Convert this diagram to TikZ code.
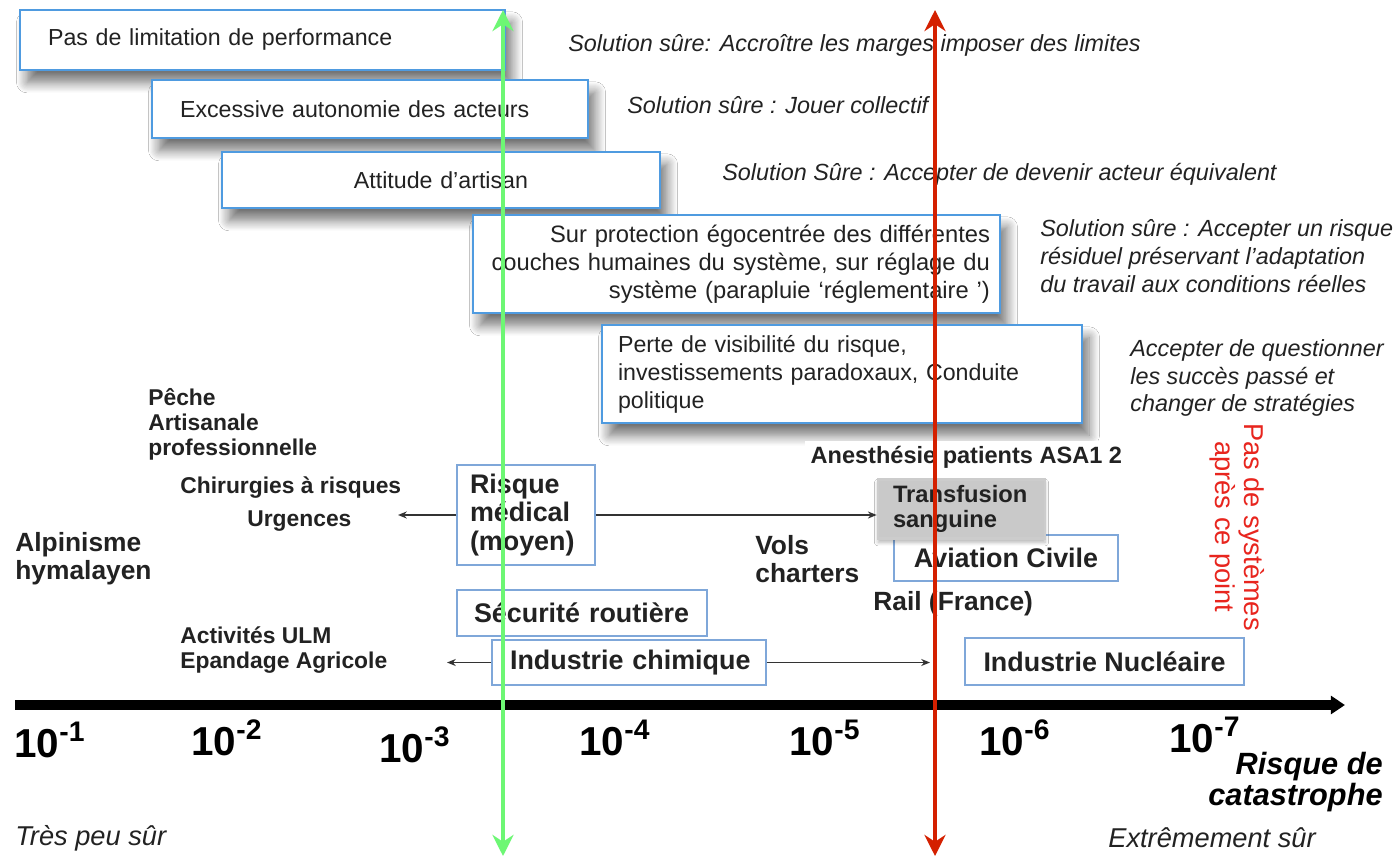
\documentclass[tikz,border=0pt]{standalone}
\usepackage{fontspec}
\setmainfont{Liberation Sans}
\usepackage{xcolor}
\usepackage{tikz}
\usetikzlibrary{arrows.meta, positioning, shadows.blur}
\definecolor{boxblue}{HTML}{4F9BE0}
\definecolor{thinblue}{HTML}{7FA7D9}
\definecolor{safegreen}{HTML}{6DF774}
\definecolor{riskred}{HTML}{D42000}
\definecolor{limitred}{HTML}{E8251E}
\definecolor{transgray}{HTML}{C9C9C9}
\definecolor{textgray}{HTML}{222222}

\begin{document}
\begin{tikzpicture}[
  x=0.02cm, y=-0.02cm,
  every node/.style={font=\fontsize{13.2}{15.9}\selectfont, text=textgray},
  flagbox/.style={
    draw=boxblue, line width=1.5pt, fill=white,
    inner ysep=2pt,
    blur shadow={shadow xshift=4pt, shadow yshift=-7pt, shadow blur radius=6pt,
                 shadow blur steps=10, shadow opacity=55}
  },
  sysbox/.style={draw=thinblue, line width=0.9pt, fill=white,
                 font=\fontsize{15.3}{16}\selectfont\bfseries},
  activity/.style={font=\fontsize{13}{14.2}\selectfont\bfseries,
                 align=left, anchor=west, inner sep=0pt},
  bigactivity/.style={activity, font=\fontsize{15}{15.9}\selectfont\bfseries},
  advice/.style={font=\fontsize{13.3}{15.9}\selectfont\itshape,
                 align=left, anchor=west, inner sep=0pt},
  ticklabel/.style={font=\fontsize{23}{23}\selectfont\bfseries, text=black, inner sep=0pt},
  link/.style={-{Stealth[length=5pt,width=4pt]}, line width=1pt, color=black!80},
  riskaxis/.style={-{Triangle[length=8pt,width=10pt]}, line width=5.5pt},
  bound/.style={{Stealth[length=12pt,width=12pt]}-{Stealth[length=12pt,width=12pt]},
                line width=2.8pt}
]
\useasboundingbox (0,0) rectangle (1393,858);
\fill[white] (0,0) rectangle (1393,858);

%% ── Failure modes (staircase of boxes) ──────────────────────
\node[flagbox, inner xsep=0.56cm, minimum height=1.2cm,
      text width=8.58cm, align=left] (perf) at (262.5,40)
      {Pas de limitation de performance};
\node[flagbox, inner xsep=0.56cm, minimum height=1.16cm,
      text width=7.6cm, align=left] (autonomie) at (370,109)
      {Excessive autonomie des acteurs};
\node[flagbox, inner xsep=0.56cm, minimum height=1.12cm,
      text width=7.64cm, align=center] (artisan) at (441,180)
      {Attitude d'artisan};
\node[flagbox, inner xsep=0.2cm, minimum height=1.96cm,
      text width=10.14cm, align=right,
      font=\fontsize{13.5}{15.9}\selectfont] (protection) at (736.5,264)
      {Sur protection égocentrée des différentes\\
       couches humaines du système, sur réglage du\\
       système  (parapluie ‘réglementaire ’)};
\node[flagbox, inner xsep=0.32cm, minimum height=1.96cm,
      text width=8.96cm, align=left] (visibilite) at (842,374)
      {Perte de visibilité du risque,\\
       investissements paradoxaux, Conduite\\
       politique};

%% ── Safe solutions (right column) ───────────────────────────
\node[advice] (solMarges) at (568,45)
      {Solution sûre: Accroître les marges imposer des limites};
\node[advice] (solCollectif) at (627,105)
      {Solution sûre : Jouer collectif};
\node[advice] (solActeur) at (722,174)
      {Solution Sûre : Accepter de devenir acteur équivalent};
\node[advice] (solResiduel) at (1040,256)
      {Solution sûre : Accepter un risque\\
       résiduel  préservant l'adaptation\\
       du travail aux conditions réelles};
\node[advice] (solStrategie) at (1130,378)
      {Accepter de questionner\\les succès passé et\\changer de stratégies};

\node[rotate=-90, align=center, text=limitred,
      font=\fontsize{15.5}{16.5}\selectfont] (limite) at (1237,527)
      {Pas de systèmes\\après ce point};

%% ── Activities by level of risk ─────────────────────────────
\node[activity] (peche) at (148,424)
      {Pêche\\Artisanale\\professionnelle};
\node[activity] (chirurgie) at (180,488) {Chirurgies à risques};
\node[activity] (urgences) at (247,521) {Urgences};
\node[bigactivity] (alpinisme) at (15,559) {Alpinisme\\hymalayen};
\node[activity] (ulm) at (180,650) {Activités ULM\\Epandage Agricole};
\node[bigactivity] (vols) at (755,559) {Vols\\charters};
\node[bigactivity] (rail) at (873,604) {Rail (France)};
\node[activity, fill=white, inner sep=3pt,
      font=\fontsize{13.4}{14}\selectfont\bfseries] (anesthesie)
      at (805,457) {Anesthésie patients ASA1 2};

\node[sysbox, inner xsep=0.26cm, minimum width=2.76cm, minimum height=2cm,
      text width=2.24cm, align=left] (medical) at (526,515)
      {Risque\\médical\\(moyen)};
\node[sysbox, minimum width=4.48cm, minimum height=0.92cm] (aviation)
      at (1006,558) {Aviation Civile};
\node[sysbox, fill=transgray, draw=gray!40, line width=1.5pt,
      inner xsep=0.3cm, minimum width=3.34cm, minimum height=1.16cm,
      text width=2.74cm, align=left, font=\fontsize{13.5}{14.5}\selectfont\bfseries,
      blur shadow={shadow xshift=0pt, shadow yshift=-2pt, shadow opacity=30}]
      (transfusion) at (961.5,509) {Transfusion\\sanguine};
\node[sysbox, inner xsep=0.34cm, minimum width=5cm, minimum height=0.92cm,
      text width=4.32cm, align=left] (routiere) at (582,613)
      {Sécurité routière};
\node[sysbox, inner xsep=0.36cm, minimum width=5.48cm, minimum height=0.9cm,
      text width=4.76cm, align=left] (chimique) at (629,662.5)
      {\mbox{Industrie chimique}};
\node[sysbox, minimum width=5.58cm, minimum height=0.94cm] (nucleaire)
      at (1104.5,661.5) {Industrie Nucléaire};

%% ── Spread arrows ───────────────────────────────────────────
\coordinate (medLeft)  at (398,515);
\coordinate (chimLeft) at (447,662.5);
\coordinate (chimRight) at (930,662.5);
\draw[link] (medical.west) -- (medLeft);
\draw[link] (medical.east) -- (medical.east -| transfusion.west);
\draw[link] (chimique.west) -- (chimLeft);
\draw[link] (chimique.east) -- (chimRight);

%% ── Risk axis ───────────────────────────────────────────────
\coordinate (axisStart) at (15,705);
\coordinate (axisEnd)   at (1345,705);
\draw[riskaxis] (axisStart) -- (axisEnd);

\foreach \xp/\yp/\ex in {50/740/1, 227/738/2, 415/745/3, 615/738/4,
                         825/738/5, 1015/738/6, 1205/735/7}
  \node[ticklabel] (tick\ex) at (\xp,\yp) {10\textsuperscript{-\ex}};

\node[align=right, anchor=east, inner sep=0pt, text=black,
      font=\fontsize{17.5}{17.6}\selectfont\bfseries\itshape] (catastrophe)
      at (1383,782) {Risque de\\catastrophe};
\node[anchor=west, inner sep=0pt, font=\fontsize{15.5}{16}\selectfont\itshape]
      (peuSur) at (15,838) {Très peu sûr};
\node[anchor=west, inner sep=0pt, font=\fontsize{15.5}{16}\selectfont\itshape]
      (tresSur) at (1108,838) {Extrêmement sûr};

%% ── Safety boundaries ───────────────────────────────────────
\coordinate (greenTop) at (503,10);
\coordinate (greenBot) at (503,856);
\coordinate (redTop)   at (935,10);
\coordinate (redBot)   at (935,856);
\draw[bound, color=safegreen] (greenTop) -- (greenBot);
\draw[bound, color=riskred]   (redTop) -- (redBot);

\end{tikzpicture}
\end{document}
